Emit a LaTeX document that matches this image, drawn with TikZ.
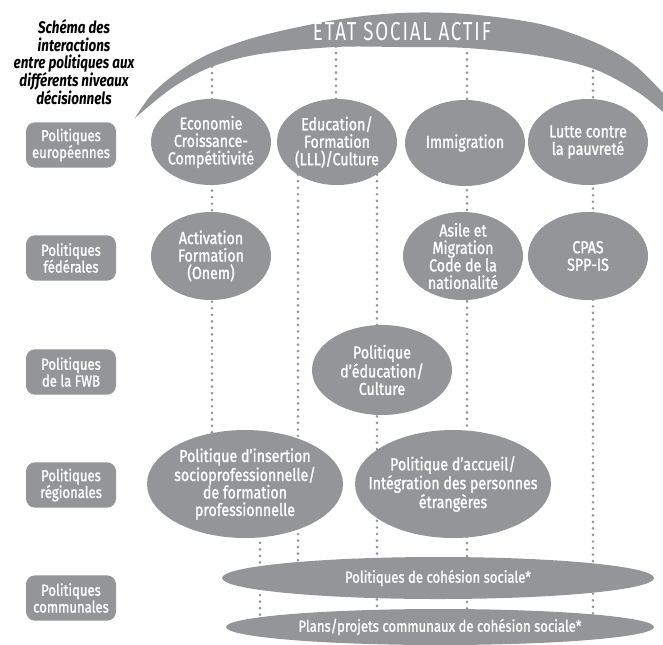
\documentclass[tikz,border=0pt]{standalone}
\usepackage{fontspec}
\setmainfont{Fira Sans}[FakeStretch=0.8]
\newfontfamily\polfont{Fira Sans}[FakeStretch=0.82,FakeBold=1.3]
\newfontfamily\titlefont{Fira Sans}[FakeStretch=0.8]
\newfontfamily\bandfont{Fira Sans}[FakeStretch=0.72,LetterSpace=7]
\usetikzlibrary{shapes.geometric,backgrounds,calc}
\definecolor{polgray}{RGB}{147,149,152}

\begin{document}
\begin{tikzpicture}[x=0.75pt, y=-0.75pt,
    lvlbox/.style={fill=polgray, text=white, rounded corners=6.75pt, align=center,
        minimum width=67.5pt, minimum height=34pt, inner sep=0pt,
        font={\polfont\fontsize{12}{12.6}\selectfont}},
    polnode/.style 2 args={ellipse, fill=polgray, text=white, align=center, inner sep=-15pt,
        minimum width=#1*0.75pt, minimum height=#2*0.75pt,
        font={\polfont\fontsize{13}{13.1}\selectfont}},
    flatnode/.style={font={\polfont\fontsize{12}{12}\selectfont}},
    dotline/.style={polgray, line width=2.2pt, line cap=round, dash pattern=on 0pt off 4.9pt}]
    \useasboundingbox (0,0) rectangle (663,644);

    % title
    \node (titre) at (74,62) [align=center, font={\titlefont\fontsize{12.6}{13.35}\selectfont\bfseries\itshape}]
        {Schéma des\\interactions\\entre politiques aux\\différents niveaux\\décisionnels};

    % levels
    \node[lvlbox] (eur) at (71,145) {Politiques\\européennes};
    \node[lvlbox] (fed) at (71,258) {Politiques\\fédérales};
    \node[lvlbox] (fwbl) at (71,372) {Politiques\\de la FWB};
    \node[lvlbox] (reg) at (71,485) {Politiques\\régionales};
    \node[lvlbox] (com) at (71,598) {Politiques\\communales};

    % etat social actif
    \fill[polgray] plot[smooth, tension=0.55] coordinates {(135,118) (152,94) (178,72) (211,53) (260,36) (335,20) (400,13) (467,14) (540,24) (594,42) (632,63) (663,93) (674,108)}
        -- plot[smooth, tension=0.55] coordinates {(674,124) (663,112) (636,91) (594,69) (540,56) (467,48) (400,47) (335,47) (260,54) (211,67) (172,88) (135,118)} -- cycle;
    \node (etat) at (402,32) [text=white, font={\bandfont\fontsize{19.5}{19.5}\selectfont}] {ETAT SOCIAL ACTIF};
    \coordinate (arc1) at (212,60);
    \coordinate (arc2) at (336,40);
    \coordinate (arc3) at (467,40);
    \coordinate (arc4) at (593,58);

    % europe
    \node[polnode={120}{86}] (eco) at (211,142) {Economie\\Croissance-\\Compétitivité};
    \node[polnode={120}{86}] (edu) at (337,142) {Education/\\Formation\\(LLL)/Culture};
    \node[polnode={120}{86}] (imm) at (465,143) {Immigration};
    \node[polnode={120}{86}] (lut) at (588,142) {Lutte contre\\la pauvreté};

    % federal
    \node[polnode={120}{88}] (act) at (211,256) {Activation\\Formation\\(Onem)};
    \node[polnode={120}{88}] (asi) at (463,256) {Asile et\\Migration\\Code de la\\nationalité};
    \node[polnode={120}{88}] (cpas) at (588,256) {CPAS\\SPP-IS};

    % fwb
    \node[polnode={140}{90}] (fwb) at (382,370) {Politique\\d’éducation/\\Culture};

    % regions
    \node[polnode={196}{108}] (ins) at (245,484) {Politique d’insertion\\socioprofessionnelle/\\de formation\\professionnelle};
    \node[polnode={196}{108}] (acc) at (453,484) {Politique d’accueil/\\Intégration des personnes\\étrangères};

    % communes
    \node[polnode={432}{42}, flatnode] (coh) at (438,578) {Politiques de cohésion sociale*};
    \node[polnode={428}{36}, flatnode] (pla) at (440,627) {Plans/projets communaux de cohésion sociale*};

    % dotted links
    \begin{scope}[on background layer]
        \draw[dotline] (arc1) -- (arc1 |- ins.center);
        \draw[dotline] (arc2) -- (arc2 |- edu.center);
        \draw[dotline] (arc3) -- (arc3 |- pla.center);
        \draw[dotline] (arc4) -- (arc4 |- pla.center);
        \coordinate (edul) at ($(edu.center)+(-39,0)$);
        \coordinate (edur) at ($(edu.center)+(40,0)$);
        \coordinate (insr) at ($(ins.center)+(15,0)$);
        \draw[dotline] (edul) -- (edul |- coh.center);
        \draw[dotline] (edur) -- (edur |- pla.center);
        \draw[dotline] (insr) -- (insr |- pla.center);
    \end{scope}
\end{tikzpicture}
\end{document}
